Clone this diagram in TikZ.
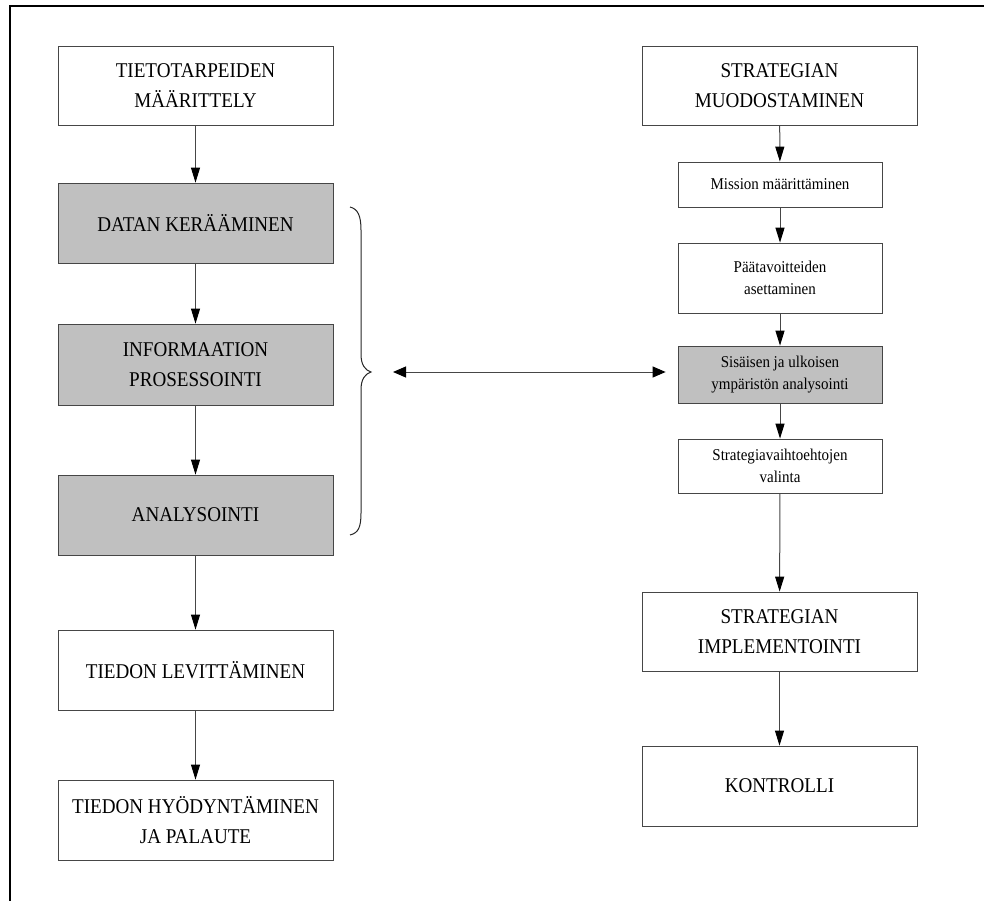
\documentclass[tikz,border=0pt]{standalone}
\usepackage{fontspec}
\setmainfont{Liberation Serif}[FakeStretch=0.91]
\usetikzlibrary{arrows.meta}

\definecolor{boxgray}{RGB}{192,192,192}
\definecolor{edgegray}{RGB}{70,70,70}

\tikzset{every picture/.style={line width=0.75pt}}
\tikzset{
  bigbox/.style={draw=edgegray, fill=white, minimum width=275pt, align=center, inner sep=0.75pt, font=\fontsize{21}{30}\selectfont},
  graybox/.style={bigbox, fill=boxgray},
  smallbox/.style={draw=edgegray, fill=white, minimum width=204pt, align=center, inner sep=0.75pt, font=\fontsize{16.5}{22}\selectfont},
  flow/.style={draw=edgegray, line width=1pt, -{Triangle[length=15pt,width=9pt,color=black]}},
  twoway/.style={draw=edgegray, line width=1pt, {Triangle[length=13pt,width=11pt,color=black]}-{Triangle[length=13pt,width=11pt,color=black]}}
}

\begin{document}
\begin{tikzpicture}[x=1pt,y=1pt,yscale=-1,xscale=1]
\useasboundingbox (0,0) rectangle (984,901);

%Frame
\draw [line width=2pt]  (9.5,901) -- (9.5,6) -- (984,6) ;

% Text Node
\node (tieto) [bigbox, minimum height=79pt] at (195.5,85.5) {TIETOTARPEIDEN\\MÄÄRITTELY};
% Text Node
\node (datan) [graybox, minimum height=80pt] at (195.5,223) {DATAN KERÄÄMINEN};
% Text Node
\node (info) [graybox, minimum height=81pt] at (195.5,364.5) {INFORMAATION\\PROSESSOINTI};
% Text Node
\node (analy) [graybox, minimum height=80pt] at (195.5,515) {ANALYSOINTI};
% Text Node
\node (levit) [bigbox, minimum height=80pt] at (195.5,670) {TIEDON LEVITTÄMINEN};
% Text Node
\node (hyod) [bigbox, minimum height=80pt] at (195.5,820) {TIEDON HYÖDYNTÄMINEN\\JA PALAUTE};

% Text Node
\node (strat) [bigbox, minimum height=79pt] at (779.5,85.5) {STRATEGIAN\\MUODOSTAMINEN};
% Text Node
\node (missio) [smallbox, minimum height=45pt] at (780,184.5) {Mission määrittäminen};
% Text Node
\node (paata) [smallbox, minimum height=70pt] at (780,278) {Päätavoitteiden\\asettaminen};
% Text Node
\node (sisa) [smallbox, fill=boxgray, minimum height=57pt] at (780,374.5) {Sisäisen ja ulkoisen\\ympäristön analysointi};
% Text Node
\node (valin) [smallbox, minimum height=54pt] at (780,466) {Strategiavaihtoehtojen\\valinta};
% Text Node
\node (implem) [bigbox, minimum height=79pt] at (779.5,631.5) {STRATEGIAN\\IMPLEMENTOINTI};
% Text Node
\node (kontr) [bigbox, minimum height=80pt] at (779.5,786) {KONTROLLI};

%Straight Lines
\draw [flow] (tieto) -- (datan) ;
\draw [flow] (datan) -- (info) ;
\draw [flow] (info) -- (analy) ;
\draw [flow] (analy) -- (levit) ;
\draw [flow] (levit) -- (hyod) ;

\draw [flow] (strat) -- (missio) ;
\draw [flow] (missio) -- (paata) ;
\draw [flow] (paata) -- (sisa) ;
\draw [flow] (sisa) -- (valin) ;
\draw [flow] (valin) -- (implem) ;
\draw [flow] (implem) -- (kontr) ;

%Shape: Brace
\coordinate (bracetip) at (371,372) ;
\draw [draw=black!85, line width=1pt] (350,207) .. controls (358,209) and (361,216) .. (361,230) -- (361,354) .. controls (361,365) and (365,370) .. (bracetip) .. controls (365,374) and (361,379) .. (361,390) -- (361,513) .. controls (361,528) and (358,533) .. (350,535) ;

%Straight Lines
\draw [twoway, shorten <=22pt, shorten >=12pt] (bracetip) -- (sisa.west |- bracetip) ;

\end{tikzpicture}
\end{document}
